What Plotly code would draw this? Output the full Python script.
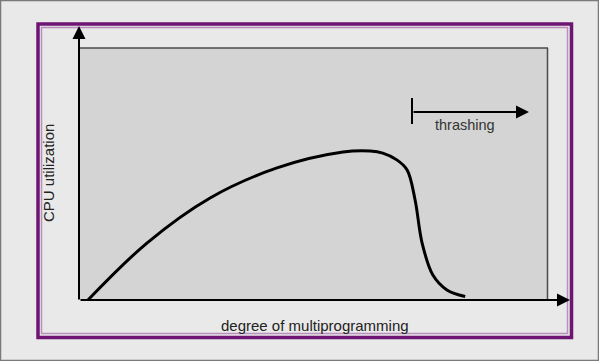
import plotly.graph_objects as go

# ---- data ----
x_degree = [1.7, 14.3, 27.8, 42.1, 56.2, 62.0, 64.7, 67.7, 69.9, 71.6,
            73.1, 75.4, 78.4, 82.3]
cpu_util = [0.0, 22.6, 40.5, 52.4, 58.7, 59.1, 58.3, 55.6, 51.6, 39.7,
            22.6, 9.9, 4.0, 1.4]
x_title = "degree of multiprogramming"
y_title = "CPU utilization"
region_label = "thrashing"

W, H = 599, 361
L, R, T, B = 80, 548, 48, 300  # plot-area pixel box


def px(x):
    return (x - L) / (R - L)


def py(y):
    return (B - y) / (B - T)


fig = go.Figure()
fig.add_trace(go.Scatter(
    x=x_degree, y=cpu_util, mode="lines",
    line=dict(color="#000000", width=3, shape="spline", smoothing=1.0),
    hoverinfo="skip", showlegend=False,
))

shapes = []
# outer image border
shapes.append(dict(type="rect", xref="paper", yref="paper",
                   x0=px(0.5), x1=px(598.5), y0=py(0.5), y1=py(360.5),
                   line=dict(color="#7a7a7a", width=1.5), layer="below"))
# purple frame
shapes.append(dict(type="rect", xref="paper", yref="paper",
                   x0=px(38), x1=px(571.5), y0=py(24), y1=py(337.5),
                   line=dict(color="#6e1473", width=3.5), layer="below"))
shapes.append(dict(type="rect", xref="paper", yref="paper",
                   x0=px(41.5), x1=px(567.5), y0=py(27.5), y1=py(333.5),
                   line=dict(color="#b98fbd", width=1.5), layer="below"))
# plot area top/right border
shapes.append(dict(type="line", xref="paper", yref="paper",
                   x0=px(80), x1=px(548), y0=py(48), y1=py(48),
                   line=dict(color="#4a4a4a", width=1.5)))
shapes.append(dict(type="line", xref="paper", yref="paper",
                   x0=px(547.5), x1=px(547.5), y0=py(48), y1=py(300),
                   line=dict(color="#4a4a4a", width=1.5)))
# thrashing start tick
shapes.append(dict(type="line", xref="paper", yref="paper",
                   x0=px(412), x1=px(412), y0=py(98), y1=py(124),
                   line=dict(color="#000000", width=2)))

annotations = []
# y axis arrow
annotations.append(dict(xref="paper", yref="paper", x=px(79), y=py(26),
                        ax=0, ay=275, text="", showarrow=True,
                        arrowhead=2, arrowsize=1.3, arrowwidth=2, arrowcolor="#000000"))
# x axis arrow
annotations.append(dict(xref="paper", yref="paper", x=px(570), y=py(300),
                        ax=-491, ay=0, text="", showarrow=True,
                        arrowhead=2, arrowsize=1.3, arrowwidth=2, arrowcolor="#000000"))
# thrashing arrow
annotations.append(dict(xref="paper", yref="paper", x=px(529), y=py(112),
                        ax=-117, ay=0, text="", showarrow=True,
                        arrowhead=2, arrowsize=1.3, arrowwidth=2, arrowcolor="#000000"))
# texts
annotations.append(dict(xref="paper", yref="paper", x=px(465), y=py(125),
                        text=region_label, showarrow=False,
                        font=dict(family="Liberation Sans, Arial", size=14.5, color="#333333"),
                        xanchor="center", yanchor="middle"))
annotations.append(dict(xref="paper", yref="paper", x=px(315), y=py(325),
                        text=x_title, showarrow=False,
                        font=dict(family="Liberation Sans, Arial", size=15, color="#222222"),
                        xanchor="center", yanchor="middle"))
annotations.append(dict(xref="paper", yref="paper", x=px(48), y=py(173),
                        text=y_title, showarrow=False, textangle=-90,
                        font=dict(family="Liberation Sans, Arial", size=15, color="#222222"),
                        xanchor="center", yanchor="middle"))

fig.update_layout(
    width=W, height=H,
    margin=dict(l=L, r=W - R, t=T, b=H - B, pad=0),
    paper_bgcolor="#e9e9e9",
    plot_bgcolor="#d4d4d4",
    xaxis=dict(range=[0, 100], showgrid=False, zeroline=False, showticklabels=False,
               ticks="", showline=False, fixedrange=True),
    yaxis=dict(range=[0, 100], showgrid=False, zeroline=False, showticklabels=False,
               ticks="", showline=False, fixedrange=True),
    shapes=shapes,
    annotations=annotations,
    showlegend=False,
)

fig.write_html("out.html", config={"displayModeBar": False},
               post_script="document.body.style.margin='0px';document.body.style.overflow='hidden';")
